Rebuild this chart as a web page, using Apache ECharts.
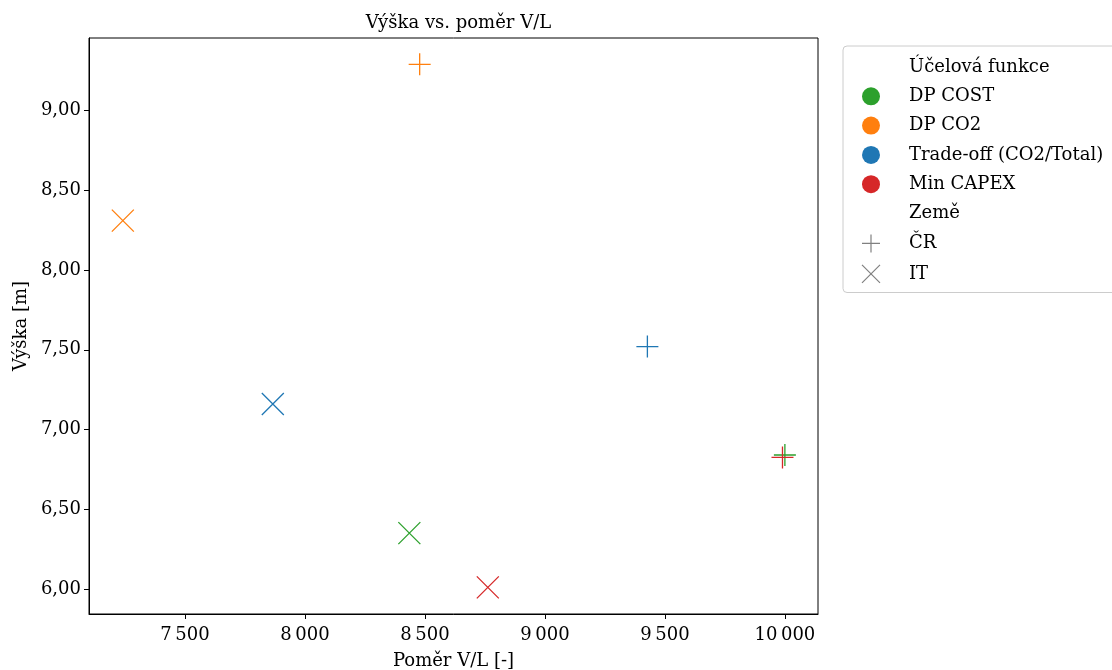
<!DOCTYPE html>
<html>
<head>
<meta charset="utf-8">
<script src="https://cdn.jsdelivr.net/npm/echarts@6/dist/echarts.min.js"></script>
<style>
  html, body { margin: 0; padding: 0; background: #fff; }
  #chart { width: 1112px; height: 670px; }
</style>
</head>
<body>
<div id="chart"></div>
<script>
// Objective functions and their colours
const functions = ['DP COST', 'DP CO2', 'Trade-off (CO2/Total)', 'Min CAPEX'];
const colors = ['#2ca02c', '#ff7f0e', '#1f77b4', '#d62728'];

// Results per country (x = ratio V/L, y = height in m)
const crRatio = [10000, 8478, 9427, 9990];
const crHeight = [6.84, 9.29, 7.52, 6.825];
const itRatio = [8435, 7241, 7866, 8762];
const itHeight = [6.35, 8.31, 7.16, 6.01];

// Tick values
const xTicks = [7500, 8000, 8500, 9000, 9500, 10000];
const yTicks = [6.0, 6.5, 7.0, 7.5, 8.0, 8.5, 9.0];

const FONT = 'DejaVu Serif';
const FS = 18;
const PLUS = 'path://M10,0 L10,20 M0,10 L20,10';
const CROSS = 'path://M0,0 L20,20 M0,20 L20,0';
const GREY = '#808080';

const fmtX = v => String(Math.round(v)).replace(/\B(?=(\d{3})+(?!\d))/g, '\u2009');
const fmtY = v => v.toFixed(2).replace('.', ',');

const series = functions.map((name, i) => ({
  name: name,
  type: 'scatter',
  symbolSize: 22,
  itemStyle: { color: colors[i], borderColor: colors[i], borderWidth: 1.3, opacity: 1 },
  emphasis: { disabled: true },
  data: [
    { value: [crRatio[i], crHeight[i]], symbol: PLUS },
    { value: [itRatio[i], itHeight[i]], symbol: CROSS }
  ]
}));
// Legend-only entries (section headings and country markers)
['Účelová funkce', 'Země', 'ČR', 'IT'].forEach(name => {
  series.push({ name: name, type: 'scatter', data: [], itemStyle: { color: GREY, opacity: 1 } });
});

const legendData = [
  { name: 'Účelová funkce', icon: 'none' },
  ...functions.map((name, i) => ({
    name: name, icon: 'circle',
    itemStyle: { color: colors[i], borderWidth: 0, opacity: 1 }
  })),
  { name: 'Země', icon: 'none' },
  { name: 'ČR', icon: PLUS, itemStyle: { color: GREY, borderColor: GREY, borderWidth: 1.2, opacity: 1 } },
  { name: 'IT', icon: CROSS, itemStyle: { color: GREY, borderColor: GREY, borderWidth: 1.2, opacity: 1 } }
];

const chart = echarts.init(document.getElementById('chart'), null, { renderer: 'canvas' });
chart.setOption({
  animation: false,
  backgroundColor: '#fff',
  textStyle: { fontFamily: FONT },
  title: {
    text: 'Výška vs. poměr V/L',
    left: 453.5, textAlign: 'center', top: 9,
    textStyle: { fontFamily: FONT, fontSize: FS, fontWeight: 'normal', color: '#000' }
  },
  grid: {
    left: 89, right: 294, top: 38, bottom: 56,
    outerBoundsMode: 'none', containLabel: false,
    show: true, borderColor: '#000', borderWidth: 1, backgroundColor: 'transparent'
  },
  legend: {
    orient: 'vertical',
    left: 843, top: 46,
    padding: [12, 30, 9, 8],
    itemWidth: 40, itemHeight: 18, itemGap: 11.3,
    backgroundColor: 'rgba(255,255,255,0.8)',
    borderColor: '#cccccc', borderWidth: 1, borderRadius: 4,
    selectedMode: false,
    textStyle: { fontFamily: FONT, fontSize: FS, color: '#000', padding: [0, 0, 0, 13], lineHeight: 18 },
    data: legendData
  },
  xAxis: {
    type: 'value',
    min: 7100, max: 10138,
    name: 'Poměr V/L [-]',
    nameLocation: 'middle', nameGap: 38,
    nameTextStyle: { fontFamily: FONT, fontSize: FS, color: '#000' },
    axisLine: { show: true, lineStyle: { color: '#000', width: 1 } },
    axisTick: { show: true, length: 5, inside: false, customValues: xTicks, lineStyle: { color: '#000' } },
    axisLabel: { customValues: xTicks, formatter: fmtX, margin: 12, fontFamily: FONT, fontSize: FS, color: '#000' },
    splitLine: { show: false }
  },
  yAxis: {
    type: 'value',
    min: 5.843, max: 9.455,
    name: 'Výška [m]',
    nameLocation: 'middle', nameGap: 56, nameRotate: 90,
    nameTextStyle: { fontFamily: FONT, fontSize: FS, color: '#000' },
    axisLine: { show: true, lineStyle: { color: '#000', width: 1 } },
    axisTick: { show: true, length: 5, inside: false, customValues: yTicks, lineStyle: { color: '#000' } },
    axisLabel: { customValues: yTicks, formatter: fmtY, margin: 8, fontFamily: FONT, fontSize: FS, color: '#000' },
    splitLine: { show: false }
  },
  series: series
});
</script>
</body>
</html>
